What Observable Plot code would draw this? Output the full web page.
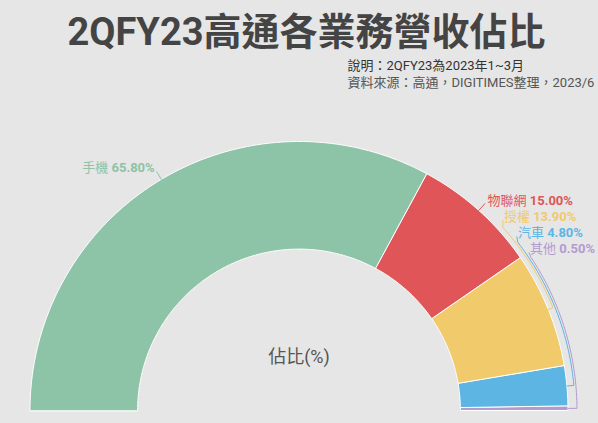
<!DOCTYPE html>
<html>
<head>
<meta charset="utf-8">
<script src="https://cdn.jsdelivr.net/npm/d3@7"></script>
<script src="https://cdn.jsdelivr.net/npm/@observablehq/plot@0.6"></script>
<style>
  html, body { margin: 0; padding: 0; background: #e6e6e6; }
  #chart { width: 598px; height: 423px; overflow: hidden; }
  tspan.val { font-weight: 700; }
</style>
</head>
<body>
<div id="chart"></div>
<script>
// ---- data ----
const categories = ["手機", "物聯網", "授權", "汽車", "其他"];
const shares = [65.8, 15.0, 13.9, 4.8, 0.5];
const palette = ["#8dc3a7", "#df5558", "#f0ca6b", "#5db5e4", "#b39bd1"];
const titleText = "2QFY23高通各業務營收佔比";
const noteLines = ["說明：2QFY23為2023年1~3月", "資料來源：高通，DIGITIMES整理，2023/6"];
const centerText = "佔比(%)";

// ---- layout ----
const W = 598, H = 423, CX = 298.5, CY = 410, R = 269, INNER = 0.6;
const LABEL_R = 1 + 13 / R;
const STACK = 16 / R;
const rad = d => d * Math.PI / 180;
const FONT = "Roboto, 'Noto Sans CJK TC', sans-serif";

let cum = 0;
const slices = categories.map((name, i) => {
  const a0 = 180 - cum * 1.8;
  cum += shares[i];
  const a1 = 180 - cum * 1.8;
  return {name, value: shares[i], a0, a1, mid: (a0 + a1) / 2};
});

// slice polygons (unit radius coordinates)
const polyPts = [];
for (const s of slices) {
  const n = Math.max(2, Math.ceil((s.a0 - s.a1) / 0.5));
  for (let k = 0; k <= n; k++) {
    const a = rad(s.a0 + (s.a1 - s.a0) * k / n);
    polyPts.push({name: s.name, x: Math.cos(a), y: Math.sin(a)});
  }
  for (let k = n; k >= 0; k--) {
    const a = rad(s.a0 + (s.a1 - s.a0) * k / n);
    polyPts.push({name: s.name, x: INNER * Math.cos(a), y: INNER * Math.sin(a)});
  }
}

// label layout
const labels = slices.map(s => ({...s, side: s.mid > 90 ? "left" : "right", moved: false, j: 0}));
const rightLabels = labels.filter(l => l.side === "right");
rightLabels.forEach((l, i) => {
  l.ly = i === 0 ? LABEL_R * Math.sin(rad(l.mid)) : rightLabels[0].ly - i * STACK;
  l.lx = Math.sqrt(LABEL_R * LABEL_R - l.ly * l.ly);
  l.moved = i > 0;
  l.j = i;
});
labels.filter(l => l.side === "left").forEach(l => {
  l.lx = LABEL_R * Math.cos(rad(l.mid));
  l.ly = LABEL_R * Math.sin(rad(l.mid));
});

// leader lines
const leadPts = [];
for (const l of labels) {
  const m = rad(l.mid);
  leadPts.push({name: l.name, x: Math.cos(m), y: Math.sin(m)});
  if (!l.moved) {
    const r = 1 + 9 / R;
    leadPts.push({name: l.name, x: r * Math.cos(m), y: r * Math.sin(m)});
  } else {
    const rd = 1 + (3 + 2 * l.j) / R;
    const px = l.lx - 1 / R, py = l.ly - 4 / R;
    const ap = Math.atan2(py, px) * 180 / Math.PI - 1;
    const n = 40;
    for (let k = 0; k <= n; k++) {
      const a = rad(l.mid + (ap - l.mid) * k / n);
      leadPts.push({name: l.name, x: rd * Math.cos(a), y: rd * Math.sin(a)});
    }
    leadPts.push({name: l.name, x: px, y: py});
  }
}

const labelText = d => `${d.name} ${d.value.toFixed(2)}%`;

const svg = Plot.plot({
  width: W,
  height: H,
  margin: 0,
  style: {background: "#e6e6e6", fontFamily: FONT, overflow: "visible"},
  x: {type: "linear", domain: [-CX / R, (W - CX) / R], range: [0, W], axis: null},
  y: {type: "linear", domain: [(CY - H) / R, CY / R], range: [H, 0], axis: null},
  color: {domain: categories, range: palette},
  marks: [
    Plot.line(polyPts, {x: "x", y: "y", z: "name", fill: "name", stroke: "#ffffff", strokeWidth: 1, curve: "linear-closed", strokeLinejoin: "miter"}),
    Plot.line(leadPts, {x: "x", y: "y", z: "name", stroke: "name", strokeWidth: 1, curve: "linear"}),
    Plot.text(labels.filter(l => l.side === "left"), {x: "lx", y: "ly", text: labelText, fill: "name", textAnchor: "end", lineAnchor: "middle", fontSize: 13}),
    Plot.text(labels.filter(l => l.side === "right"), {x: "lx", y: "ly", text: labelText, fill: "name", textAnchor: "start", lineAnchor: "middle", fontSize: 13}),
    Plot.text([centerText], {x: () => 0, y: () => 0, dy: -48, text: d => d, textAnchor: "middle", lineAnchor: "bottom", fontSize: 18, fill: "#555555"}),
    Plot.text([titleText], {frameAnchor: "top-left", dx: 67, dy: 44, text: d => d, textAnchor: "start", lineAnchor: "bottom", fontSize: 38, fontWeight: "bold", fill: "#444444"}),
    Plot.text([noteLines[0]], {frameAnchor: "top-left", dx: 347, dy: 69, text: d => d, textAnchor: "start", lineAnchor: "bottom", fontSize: 13, fill: "#333333"}),
    Plot.text([noteLines[1]], {frameAnchor: "top-left", dx: 347, dy: 86, text: d => d, textAnchor: "start", lineAnchor: "bottom", fontSize: 13, fill: "#555555"})
  ]
});

// name normal, value bold
const labelStrings = new Set(labels.map(labelText));
d3.select(svg).selectAll("text").each(function() {
  const t = d3.select(this);
  const s = t.text();
  if (!labelStrings.has(s)) return;
  const i = s.indexOf(" ");
  t.text(null);
  t.append("tspan").text(s.slice(0, i));
  t.append("tspan").attr("class", "val").attr("font-weight", "700").style("font-weight", "700").text(s.slice(i));
});

document.getElementById("chart").appendChild(svg);
</script>
</body>
</html>
